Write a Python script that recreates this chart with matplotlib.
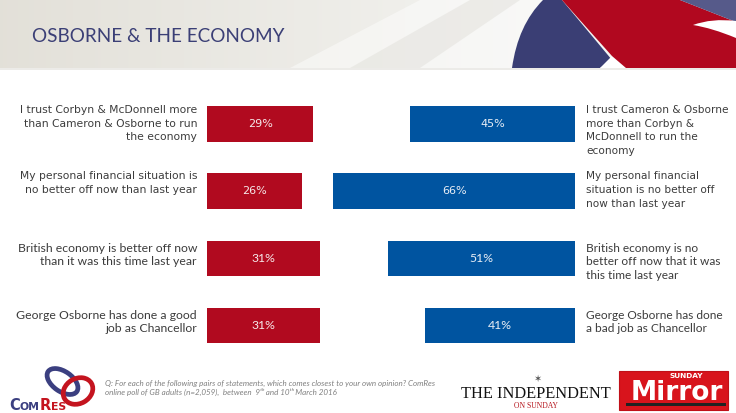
import numpy as np
import matplotlib
matplotlib.use("Agg")
import matplotlib.pyplot as plt
from matplotlib.patches import Rectangle, Ellipse, Polygon, PathPatch
from matplotlib.path import Path
from matplotlib.transforms import blended_transform_factory

# Data
left_labels = [
    "I trust Corbyn & McDonnell more\nthan Cameron & Osborne to run\nthe economy",
    "My personal financial situation is\nno better off now than last year",
    "British economy is better off now\nthan it was this time last year",
    "George Osborne has done a good\njob as Chancellor",
]
right_labels = [
    "I trust Cameron & Osborne\nmore than Corbyn &\nMcDonnell to run the\neconomy",
    "My personal financial\nsituation is no better off\nnow than last year",
    "British economy is no\nbetter off now that it was\nthis time last year",
    "George Osborne has done\na bad job as Chancellor",
]
left_values = [29, 26, 31, 31]
right_values = [45, 66, 51, 41]
title = "OSBORNE & THE ECONOMY"
question = ("Q: For each of the following pairs of statements, which comes closest to your own opinion? ComRes\n"
            "online poll of GB adults (n=2,059),  between  9ᵗʰ and 10ᵗʰ March 2016")

W, H = 736, 413
RED = "#b10a1f"
BLUE = "#0054a0"
NAVY = "#3b3f76"
TXT = "#3c3c3c"

fig = plt.figure(figsize=(W / 100, H / 100), dpi=100)
fig.patch.set_facecolor("white")

# background axes in pixel units (y down)
bg = fig.add_axes([0, 0, 1, 1])
bg.set_xlim(0, W)
bg.set_ylim(H, 0)
bg.axis("off")

# header band
grad = np.linspace(0, 1, 300)
c0 = np.array([0.89, 0.88, 0.85])
c1 = np.array([0.96, 0.96, 0.95])
img = c0 + (c1 - c0) * np.clip(grad * 1.3, 0, 1)[:, None]
bg.imshow(img[None, :, :], extent=(0, W, 68, 0), aspect="auto", zorder=0)
bg.add_patch(Polygon([(290, 68), (420, 0), (545, 0), (512, 68)], closed=True,
                     facecolor="white", alpha=0.45, edgecolor="none", zorder=1))
bg.add_patch(Polygon([(350, 68), (470, 0), (520, 0), (420, 68)], closed=True,
                     facecolor="#d8d6cf", alpha=0.35, edgecolor="none", zorder=1))
bg.add_patch(Rectangle((0, 68), W, 2, facecolor="#ecebe8", edgecolor="none", zorder=1))

# swoosh
navy_path = Path([(512, 68), (518, 25), (543, 0), (562, 0), (612, 60), (600, 68), (512, 68)],
                 [Path.MOVETO, Path.CURVE3, Path.CURVE3, Path.LINETO, Path.LINETO,
                  Path.LINETO, Path.CLOSEPOLY])
bg.add_patch(PathPatch(navy_path, facecolor="#3a3e74", edgecolor="none", zorder=2))
bg.add_patch(Polygon([(600, 68), (612, 56), (626, 68)], closed=True,
                     facecolor="white", edgecolor="none", zorder=2))
bg.add_patch(Polygon([(562, 0), (680, 0), (736, 22), (736, 68), (626, 68), (612, 56)],
                     closed=True, facecolor="#b1081f", edgecolor="none", zorder=2))
bg.add_patch(Polygon([(680, 0), (736, 0), (736, 22)], closed=True,
                     facecolor="#565a8a", edgecolor="none", zorder=2))
white_path = Path([(693, 25), (712, 18), (736, 21), (736, 38), (712, 28), (693, 25)],
                  [Path.MOVETO, Path.CURVE3, Path.CURVE3, Path.LINETO,
                   Path.CURVE3, Path.CURVE3])
bg.add_patch(PathPatch(white_path, facecolor="white", edgecolor="none", zorder=3))

bg.text(32, 36, title, fontsize=13.6, family="Lato", color=NAVY, va="center", ha="left", zorder=4)

# bar axes
PX = 3.66          # pixels per percentage point
top_px, bot_px = 90, 360
c0_px, step_px = 124, 67.2
bar_h = 35.5 / step_px
ylim = ((bot_px - c0_px) / step_px, (top_px - c0_px) / step_px)

l_max, r_max = 40, 70
ax_l = fig.add_axes([207 / W, 1 - bot_px / H, l_max * PX / W, (bot_px - top_px) / H])
ax_r = fig.add_axes([(575 - r_max * PX) / W, 1 - bot_px / H, r_max * PX / W, (bot_px - top_px) / H])
for ax in (ax_l, ax_r):
    ax.set_ylim(*ylim)
    ax.axis("off")
    ax.patch.set_alpha(0)
ax_l.set_xlim(0, l_max)
ax_r.set_xlim(r_max, 0)

y = np.arange(len(left_values))
ax_l.barh(y, left_values, height=bar_h, color=RED)
ax_r.barh(y, right_values, height=bar_h, color=BLUE)

fams = ["DejaVu Sans", "DejaVu Sans", "Lato", "Lato"]
sizes = [7.75, 7.75, 8.8, 8.8]
spacing = [1.45, 1.45, 1.28, 1.28]
pct_sizes = [8, 8, 8.8, 8.8]
dy_px = [-1, -2, 2, 2]

tl = blended_transform_factory(bg.transData, ax_l.transData)
for i in range(len(y)):
    ax_l.text(left_values[i] / 2, y[i], f"{left_values[i]}%", ha="center", va="center",
              color="#f6e9ea", fontsize=pct_sizes[i], family=fams[i])
    ax_r.text(right_values[i] / 2, y[i], f"{right_values[i]}%", ha="center", va="center",
              color="#e9eef6", fontsize=pct_sizes[i], family=fams[i])
    ytop = y[i] - bar_h / 2 + dy_px[i] / step_px
    ax_l.text(197, ytop, left_labels[i], transform=tl, ha="right", va="top",
              multialignment="right", fontsize=sizes[i], family=fams[i], color=TXT,
              linespacing=spacing[i])
    ax_l.text(586, ytop, right_labels[i], transform=tl, ha="left", va="top",
              multialignment="left", fontsize=sizes[i] * 0.97, family=fams[i], color=TXT,
              linespacing=spacing[i])

# footer: ComRes logo
bg.add_patch(Ellipse((62.5, 381.5), 35, 20, angle=35, fill=False, edgecolor="#3b3f80", lw=3.4, zorder=3))
bg.add_patch(Ellipse((78, 391), 31, 25, angle=-30, fill=False, edgecolor="#c4141f", lw=3.4, zorder=4))
BASE = 410
t = bg.text(9, BASE, "C", fontsize=10.5, family="DejaVu Sans", weight="bold", color="#3b3f80",
            va="baseline", ha="left")
for s, fs, col in [("OM", 7.8, "#3b3f80"), ("R", 10.5, "#c4141f"), ("ES", 7.8, "#c4141f")]:
    t = bg.annotate(s, xy=(1, BASE), xycoords=(t, "data"), fontsize=fs, family="DejaVu Sans",
                    weight="bold", color=col, va="baseline", ha="left")

bg.text(105, 388, question, fontsize=5.8, family="Lato", style="italic", color="#808080",
        va="center", ha="left", linespacing=1.2)

# The Independent on Sunday
bg.text(536, 394, "THE INDEPENDENT", fontsize=11.8, family="Liberation Serif", color="#111111",
        va="center", ha="center")
bg.text(536, 406, "ON SUNDAY", fontsize=5.5, family="Liberation Serif", color="#b5141c",
        va="center", ha="center")
bg.text(537, 379, "✶", fontsize=7, family="DejaVu Sans", color="#555555", va="center", ha="center")

# Sunday Mirror
bg.add_patch(Rectangle((619, 371), 109, 39, facecolor="#d8141c", edgecolor="#c01018", lw=0.8, zorder=3))
bg.add_patch(Rectangle((626, 403), 100, 2.5, facecolor="#222222", edgecolor="none", zorder=4))
bg.text(686, 376, "SUNDAY", fontsize=5.3, family="DejaVu Sans", weight="bold", color="white",
        va="center", ha="center", zorder=5)
bg.text(677, 393, "Mirror", fontsize=19, family="DejaVu Sans", weight="bold", color="white",
        va="center", ha="center", zorder=5)

fig.savefig("out.png", dpi=100)
